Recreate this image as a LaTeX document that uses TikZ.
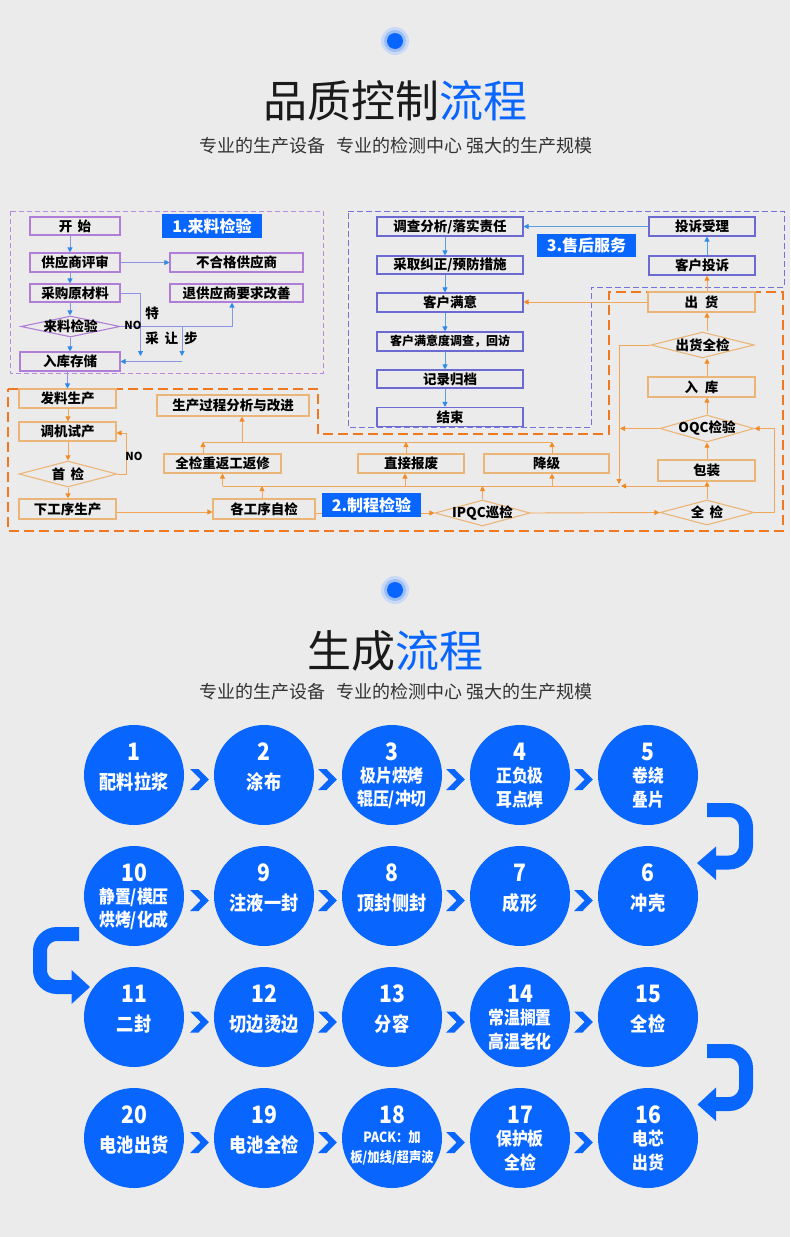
\documentclass[tikz,border=0pt]{standalone}
\usepackage{fontspec}
\setmainfont{Noto Sans CJK SC}
\newfontfamily\condf{Noto Sans CJK SC}[FakeStretch=0.88]
\usetikzlibrary{arrows.meta,shapes.geometric}
\definecolor{bg}{RGB}{235,235,235}
\definecolor{mblue}{HTML}{0866FF}
\definecolor{dotA}{HTML}{C9DAF6}
\definecolor{dotB}{HTML}{9CBDF6}
\definecolor{pbox}{HTML}{B07ED6}
\definecolor{pdashc}{HTML}{B98AD9}
\definecolor{parr}{HTML}{2F8BE6}
\definecolor{pline}{HTML}{8C93E6}
\definecolor{sbox}{HTML}{6A6AD0}
\definecolor{sdashc}{HTML}{7670E0}
\definecolor{bline}{HTML}{5AA0E0}
\definecolor{obox}{HTML}{EBB577}
\definecolor{oline}{HTML}{F2A65A}
\definecolor{ohead}{HTML}{F08C28}
\definecolor{odashc}{HTML}{F07820}
\definecolor{tdark}{HTML}{1A1A1A}
\definecolor{tsub}{HTML}{333333}
\newcommand\fb{\fontsize{13.5pt}{14pt}\selectfont\bfseries}
\newcommand\fsm{\fontsize{12pt}{13pt}\selectfont\bfseries}
\newcommand\flb{\fontsize{16pt}{17pt}\selectfont\bfseries}
\newcommand\fno{\fontsize{11pt}{12pt}\selectfont\bfseries}
\newcommand\fnum{\condf\fontsize{24pt}{24pt}\selectfont\bfseries}
\newcommand\fcl{\condf\fontsize{19.5pt}{20pt}\selectfont\bfseries}
\newcommand\fcs{\condf\fontsize{18pt}{18pt}\selectfont\bfseries}
\newcommand\fct{\condf\fontsize{14pt}{14pt}\selectfont\bfseries}
\newcommand\stA[4]{%
  \node[circ] (c#1) at (#2,#3) {};
  \node[numf] (n#1) at (#2,{#3-23.5}) {#1};
  \node[labf] (t#1) at (#2,{#3+7}) {#4};}
\newcommand\stB[5]{%
  \node[circ] (c#1) at (#2,#3) {};
  \node[numf] (n#1) at (#2,{#3-23.5}) {#1};
  \node[lab2f] (t#1) at (#2,{#3+1}) {#4};
  \node[lab2f] (u#1) at (#2,{#3+24.5}) {#5};}
\begin{document}
\begin{tikzpicture}[x=1pt,y=-1pt,
  sz/.style 2 args={minimum width=#1, minimum height=#2},
  pbx/.style={draw=pbox, line width=1.1pt, inner sep=0pt, font=\fb},
  sbx/.style={draw=sbox, line width=1.1pt, inner sep=0pt, font=\fb},
  obx/.style={draw=obox, line width=1.1pt, inner sep=0pt, font=\fb},
  pdia/.style={diamond, draw=pbox, line width=1.1pt, inner sep=0pt},
  odia/.style={diamond, draw=obox, line width=1.1pt, inner sep=0pt},
  txt/.style={inner sep=0pt, font=\fb},
  lbl/.style={fill=mblue, text=white, inner sep=0pt, font=\flb},
  parrow/.style={draw=pline, line width=0.9pt, -{Triangle[length=5pt,width=5pt,color=parr]}},
  barrow/.style={draw=bline, line width=0.9pt, -{Triangle[length=5pt,width=5pt,color=parr]}},
  oarrow/.style={draw=oline, line width=0.9pt, -{Triangle[length=5pt,width=5pt,color=ohead]}},
  oline/.style={draw=oline, line width=0.9pt},
  pdash/.style={draw=pdashc, line width=1pt, dash pattern=on 5pt off 3pt},
  sdash/.style={draw=sdashc, line width=1pt, dash pattern=on 6pt off 3pt},
  odash/.style={draw=odashc, line width=1.6pt, dash pattern=on 10pt off 5pt},
  circ/.style={circle, fill=mblue, minimum size=100pt, inner sep=0pt},
  numf/.style={text=white, font=\fnum, inner sep=0pt},
  labf/.style={text=white, font=\fcl, inner sep=0pt},
  lab2f/.style={text=white, font=\fcs, inner sep=0pt},
  lab3f/.style={text=white, font=\fct, inner sep=0pt},
  uturn/.style={draw=mblue, line width=14pt, rounded corners=17pt}
]
\fill[bg] (0,0) rectangle (790,1237);
\useasboundingbox (0,0) rectangle (790,1237);

% ---------- header 1 ----------
\fill[dotA] (395,41) circle (14pt);
\fill[dotB] (395,41) circle (11pt);
\fill[mblue] (395,41) circle (8pt);
\node[inner sep=0pt, text=tdark, font=\fontsize{44pt}{44pt}\selectfont] (title1) at (395,101) {品质控制\textcolor{mblue}{流程}};
\node[inner sep=0pt, text=tsub, font=\fontsize{18pt}{18pt}\selectfont] (sub1) at (396,146) {专业的生产设备\hspace{0.6em}专业的检测中心\hspace{0.25em}强大的生产规模};

% ---------- dashed regions ----------
\draw[pdash] (10,211) rectangle (323,373);
\draw[sdash] (348,211) -- (784,211) -- (784,287) -- (591,287) -- (591,427) -- (348,427) -- cycle;
\draw[odash] (8,389) -- (318,389) -- (318,434) -- (609,434) -- (609,292) -- (783,292) -- (783,531) -- (8,531) -- cycle;

% ---------- 1. incoming inspection ----------
\node[pbx, sz={90pt}{18pt}] (ks) at (75,226) {开\hspace{0.4em}始};
\node[pbx, sz={90pt}{19pt}] (gys) at (75,262.5) {供应商评审};
\node[pbx, sz={133pt}{19pt}] (bhg) at (236.5,262.5) {不合格供应商};
\node[pbx, sz={90pt}{18pt}] (cg) at (75,293) {采购原材料};
\node[pbx, sz={133pt}{18pt}] (tgy) at (236.5,293) {退供应商要求改善};
\node[pdia, sz={99pt}{21pt}] (ll) at (70.5,326.5) {};
\node[txt] (llT) at (ll.center) {来料检验};
\node[pbx, sz={100pt}{19pt}] (rk) at (70,361.5) {入库存储};
\node[lbl, sz={100pt}{24pt}] (L1) at (212,226) {1.来料检验};
\coordinate (ax1) at (70,0);
\draw[parrow] (ks.south -| ax1) -- (gys.north -| ax1);
\draw[parrow] (gys.south -| ax1) -- (cg.north -| ax1);
\draw[parrow] (cg.south -| ax1) -- (ll.north -| ax1);
\draw[parrow] (ll.south -| ax1) -- (rk.north -| ax1);
\draw[parrow] (gys.east) -- (bhg.west);
\coordinate (ta) at (140.5,356);
\coordinate (tb) at (182,356);
\draw[parrow] (cg.east) -| (ta);
\draw[parrow] (ll.east) -| ([xshift=-4.5pt]tgy.south);
\draw[parrow] (ll.east -| tb) -- (tb);
\draw[parrow] (tb |- rk.east) -- (rk.east);
\node[inner sep=0pt, font=\fno] (noA) at (133,325) {NO};
\node[txt] (te) at (152,313) {特};
\node[txt] (crb) at (171.5,338) {采\hspace{6pt}让\hspace{6pt}步};

% ---------- 3. after-sales ----------
\node[sbx, sz={146pt}{19pt}] (dc) at (450,226.5) {调查分析/落实责任};
\node[sbx, sz={146pt}{18pt}] (cq) at (450,265) {采取纠正/预防措施};
\node[sbx, sz={146pt}{19pt}] (khmy) at (450,302.5) {客户满意};
\node[sbx, sz={146pt}{19pt}, font=\fsm] (khdc) at (450,341.5) {客户满意度调查，回访};
\node[sbx, sz={146pt}{18pt}] (jl) at (450,379) {记录归档};
\node[sbx, sz={146pt}{19pt}] (js) at (450,417) {结束};
\node[sbx, sz={106pt}{19pt}] (tsl) at (702,226.5) {投诉受理};
\node[sbx, sz={106pt}{19pt}] (khts) at (702,265.5) {客户投诉};
\node[lbl, sz={99pt}{23pt}] (L3) at (586.5,245.5) {3.售后服务};
\coordinate (ax3) at (445,0);
\draw[barrow] (dc.south -| ax3) -- (cq.north -| ax3);
\draw[barrow] (cq.south -| ax3) -- (khmy.north -| ax3);
\draw[barrow] (khmy.south -| ax3) -- (khdc.north -| ax3);
\draw[barrow] (khdc.south -| ax3) -- (jl.north -| ax3);
\draw[barrow] (jl.south -| ax3) -- (js.north -| ax3);
\coordinate (rx) at (707,0);
\draw[barrow] (khts.north -| rx) -- (tsl.south -| rx);
\draw[barrow] (tsl.west) -- (dc.east);

% ---------- 2. process inspection ----------
\node[obx, sz={97pt}{19pt}] (fl) at (67.5,398.5) {发料生产};
\node[obx, sz={97pt}{19pt}] (tj) at (67.5,431.5) {调机试产};
\node[odia, sz={98pt}{26pt}] (sj) at (68,474) {};
\node[txt] (sjT) at (sj.center) {首\hspace{0.4em}检};
\node[obx, sz={97pt}{20pt}] (xg) at (67.5,509) {下工序生产};
\draw[parrow] (rk.south -| fl.north) -- (fl.north);
\coordinate (ax2) at (68,0);
\draw[oarrow] (fl.south -| ax2) -- (tj.north -| ax2);
\draw[oarrow] (tj.south -| ax2) -- (sj.north -| ax2);
\draw[oarrow] (sj.south -| ax2) -- (xg.north -| ax2);
\coordinate (nx) at (126,0);
\draw[oarrow] (sj.east) -- (sj.east -| nx) |- ([yshift=-1.5pt]tj.east);
\node[inner sep=0pt, font=\fno] (noB) at (134,456) {NO};

\node[obx, sz={102pt}{20pt}] (gg) at (264,509) {各工序自检};
\node[odia, sz={95pt}{26pt}] (ipqc) at (482.5,513) {};
\node[txt] (ipqcT) at (ipqc.center) {IPQC巡检};
\node[odia, sz={94pt}{25pt}] (qj) at (707,512.5) {};
\node[txt] (qjT) at (qj.center) {全\hspace{0.4em}检};
\node[obx, sz={97pt}{21pt}] (bz) at (706.5,470.5) {包装};
\node[odia, sz={94pt}{27pt}] (oqc) at (707,428.5) {};
\node[txt] (oqcT) at (oqc.center) {OQC检验};
\node[obx, sz={107pt}{20pt}] (rku) at (701.5,387) {入\hspace{0.5em}库};
\node[odia, sz={103pt}{26pt}] (chq) at (702.5,345) {};
\node[txt] (chqT) at (chq.center) {出货全检};
\node[obx, sz={107pt}{20pt}] (ch) at (701.5,302) {出\hspace{0.5em}货};
\node[obx, sz={117pt}{19pt}] (qf) at (222.5,463.5) {全检重返工返修};
\node[obx, sz={106pt}{19pt}] (zj) at (411,463.5) {直接报废};
\node[obx, sz={125pt}{19pt}] (jj) at (546.5,463.5) {降级};
\node[obx, sz={152pt}{21pt}] (sc) at (233,405.5) {生产过程分析与改进};

\draw[oarrow] ([yshift=-3pt]xg.east) -- ([yshift=-3pt]xg.east -| gg.west);
\draw[oarrow] (gg.east |- ipqc.west) -- (ipqc.west);
\draw[oarrow] (ipqc.east) -- (qj.west);
\draw[oarrow] (qj.north) -- (bz.south -| qj.north);
\draw[oarrow] (bz.north -| rx) -- (oqc.south);
\draw[oarrow] (oqc.north) -- (rku.south -| oqc.north);
\draw[oarrow] (rku.north -| rx) -- (chq.south -| rx);
\draw[oarrow] (chq.north -| rx) -- (ch.south -| rx);
\draw[oarrow] (ch.north -| rx) -- (khts.south -| rx);
\draw[oarrow] (ch.west) -- (ch.west -| khmy.east);
\coordinate (rr) at (774,0);
\draw[oarrow] (qj.east) -- (qj.east -| rr) |- (oqc.east);
\coordinate (vl) at (619,484);
\draw[oarrow] (chq.west) -| (vl);
\draw[oarrow] (oqc.west) -- ([xshift=1pt]oqc.west -| vl);
\coordinate (hy) at (0,486);
\draw[oarrow] (rx |- hy) -- ([xshift=2pt]vl |- hy);
\draw[oline] (vl |- hy) -- (qf.south |- hy);
\draw[oarrow] (qf.south |- hy) -- (qf.south);
\draw[oarrow] ([xshift=-6pt]zj.south |- hy) -- ([xshift=-6pt]zj.south);
\draw[oarrow] ([xshift=5.5pt]jj.south |- hy) -- ([xshift=5.5pt]jj.south);
\draw[oarrow] (ipqc.north) -- (ipqc.north |- hy);
\draw[oarrow] ([xshift=-2pt]gg.north) -- ([xshift=-2pt]gg.north |- hy);
\coordinate (uy) at (0,442);
\draw[oarrow] ([xshift=-19.5pt]qf.north) -- ([xshift=-19.5pt]qf.north |- uy);
\draw[oarrow] ([xshift=-5pt]zj.north) -- ([xshift=-5pt]zj.north |- uy);
\draw[oarrow] ([xshift=5.5pt]jj.north) -- ([xshift=5.5pt]jj.north |- uy);
\draw[oline] ([xshift=-19.5pt]qf.north |- uy) -- ([xshift=5.5pt]jj.north |- uy);
\draw[oarrow] ([xshift=9pt]sc.south |- uy) -- ([xshift=9pt]sc.south);
\node[lbl, sz={99pt}{24pt}] (L2) at (371.5,505) {2.制程检验};

% ---------- header 2 ----------
\fill[dotA] (395,590) circle (14pt);
\fill[dotB] (395,590) circle (11pt);
\fill[mblue] (395,590) circle (8pt);
\node[inner sep=0pt, text=tdark, font=\fontsize{44pt}{44pt}\selectfont] (title2) at (395,651) {生成\textcolor{mblue}{流程}};
\node[inner sep=0pt, text=tsub, font=\fontsize{18pt}{18pt}\selectfont] (sub2) at (396,692) {专业的生产设备\hspace{0.6em}专业的检测中心\hspace{0.25em}强大的生产规模};

% ---------- production steps ----------
\stA{1}{134}{775}{配料拉浆}
\stA{2}{264}{775}{涂布}
\stB{3}{392}{775}{极片烘烤}{辊压/冲切}
\stB{4}{520}{775}{正负极}{耳点焊}
\stB{5}{648}{775}{卷绕}{叠片}
\stB{10}{134}{896}{静置/模压}{烘烤/化成}
\stA{9}{264}{896}{注液一封}
\stA{8}{392}{896}{顶封侧封}
\stA{7}{520}{896}{成形}
\stA{6}{648}{896}{冲壳}
\stA{11}{134}{1017}{二封}
\stA{12}{264}{1017}{切边烫边}
\stA{13}{392}{1017}{分容}
\stB{14}{520}{1017}{常温搁置}{高温老化}
\stA{15}{648}{1017}{全检}
\stA{20}{134}{1138}{电池出货}
\stA{19}{264}{1138}{电池全检}
\node[circ] (c18) at (392,1138) {};
\node[numf] (n18) at (392,1114.5) {18};
\node[lab3f] (t18) at (392,1137.5) {PACK：加};
\node[lab3f] (u18) at (392,1157.5) {板/加线/超声波};
\stB{17}{520}{1138}{保护板}{全检}
\stB{16}{648}{1138}{电芯}{出货}

\foreach \cx in {199.5,327.5,455.5,583.5}
  \foreach \cy in {779.5,900.5,1022,1142.5}
    \fill[mblue, shift={(\cx,\cy)}] (-9.3,-10.5) -- (-1,-10.5) -- (9.3,0) -- (-1,10.5) -- (-9.3,10.5) -- (1,0) -- cycle;

\draw[uturn] (707,810) -- (746,810) -- (746,862.5) -- (714,862.5);
\fill[mblue] (716,846.5) -- (697,863) -- (716,880) -- cycle;
\draw[uturn] (707,1051) -- (746,1051) -- (746,1104) -- (714,1104);
\fill[mblue] (716,1087.5) -- (697.5,1104.5) -- (716,1121) -- cycle;
\draw[uturn] (79,934) -- (40,934) -- (40,987) -- (73,987);
\fill[mblue] (71.5,970) -- (90,987) -- (71.5,1004) -- cycle;
\end{tikzpicture}
\end{document}
